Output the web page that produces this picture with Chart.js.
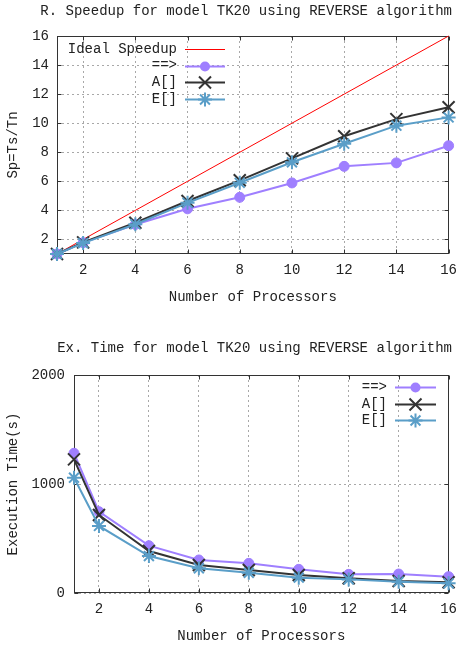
<!DOCTYPE html>
<html><head><meta charset="utf-8">
<script src="https://cdn.jsdelivr.net/npm/chart.js@4/dist/chart.umd.min.js"></script>
<style>
html,body{margin:0;padding:0;background:#fff;}
#w1{position:absolute;left:0;top:0;width:465px;height:320px;}
#w2{position:absolute;left:0;top:320px;width:465px;height:329px;}
canvas{display:block;}
</style></head><body>
<div id="w1"><canvas id="c1" width="465" height="320"></canvas></div>
<div id="w2"><canvas id="c2" width="465" height="329"></canvas></div>
<script>
// ---- data ----
const processors = [1, 2, 4, 6, 8, 10, 12, 14, 16];
const xTicks = [2, 4, 6, 8, 10, 12, 14, 16];
const speedupTicks = [2, 4, 6, 8, 10, 12, 14, 16];
const timeTicks = [0, 1000, 2000];
const idealSpeedup = [1, 2, 4, 6, 8, 10, 12, 14, 16];
const speedupArrow = [1, 1.78, 3.03, 4.11, 4.9, 5.89, 7.03, 7.27, 8.45];
const speedupA = [1, 1.8, 3.15, 4.65, 6.07, 7.58, 9.1, 10.28, 11.1];
const speedupE = [1, 1.75, 3.05, 4.52, 5.9, 7.31, 8.59, 9.83, 10.4];
const timeArrow = [1282, 746, 434, 303, 272, 217, 171, 174, 150];
const timeA = [1226, 716, 385, 257, 211, 165, 135, 110, 98];
const timeE = [1058, 615, 339, 227, 186, 141, 125, 104, 89];
const seriesNames = ['==>', 'A[]', 'E[]'];
const idealName = 'Ideal Speedup';
const title1 = 'R. Speedup for model TK20 using REVERSE algorithm';
const title2 = 'Ex. Time for model TK20 using REVERSE algorithm';

const FONT = 'Liberation Mono';
const TXT = '#222';
const C_RED = '#ff0000', C_PUR = '#9f7fff', C_BLK = '#333333', C_BLU = '#5a9ec8';

function pts(xs, ys) { return xs.map((x, i) => ({x: x, y: ys[i]})); }

function drawMarker(ctx, style, x, y, r, color, lw) {
  if (!style) return;
  ctx.save();
  ctx.strokeStyle = color; ctx.fillStyle = color; ctx.lineWidth = lw;
  ctx.beginPath();
  if (style === 'circle') {
    ctx.arc(x, y, r, 0, Math.PI * 2); ctx.fill();
  } else if (style === 'crossRot') {
    const d = r * Math.SQRT1_2;
    ctx.moveTo(x - d, y - d); ctx.lineTo(x + d, y + d);
    ctx.moveTo(x - d, y + d); ctx.lineTo(x + d, y - d); ctx.stroke();
  } else if (style === 'star') {
    const d = r * Math.SQRT1_2;
    ctx.moveTo(x - r, y); ctx.lineTo(x + r, y);
    ctx.moveTo(x, y - r); ctx.lineTo(x, y + r);
    ctx.moveTo(x - d, y - d); ctx.lineTo(x + d, y + d);
    ctx.moveTo(x - d, y + d); ctx.lineTo(x + d, y - d); ctx.stroke();
  }
  ctx.restore();
}

const frameTicks = {
  id: 'frameTicks',
  beforeDatasetsDraw(chart) {
    const {ctx, chartArea: a} = chart;
    const xs = chart.scales.x, ys = chart.scales.y;
    const L = Math.round(a.left) + 0.5, R = Math.round(a.right) - 0.5;
    const T = Math.round(a.top) + 0.5, B = Math.round(a.bottom) - 0.5;
    ctx.save();
    ctx.strokeStyle = '#333'; ctx.lineWidth = 1; ctx.setLineDash([]);
    ctx.strokeRect(L, T, R - L, B - T);
    ctx.beginPath();
    xs.ticks.forEach(t => {
      const p = Math.round(xs.getPixelForValue(t.value)) + 0.5;
      ctx.moveTo(p, B); ctx.lineTo(p, B - 4);
      ctx.moveTo(p, T); ctx.lineTo(p, T + 4);
    });
    ys.ticks.forEach(t => {
      const p = Math.round(ys.getPixelForValue(t.value)) + 0.5;
      ctx.moveTo(L, p); ctx.lineTo(L + 4, p);
      ctx.moveTo(R, p); ctx.lineTo(R - 4, p);
    });
    ctx.stroke();
    ctx.restore();
  }
};

const keyLegend = {
  id: 'keyLegend',
  afterDraw(chart, args, opts) {
    const ctx = chart.ctx;
    ctx.save();
    ctx.font = '14px "' + FONT + '"';
    ctx.fillStyle = TXT; ctx.textAlign = 'right'; ctx.textBaseline = 'middle';
    opts.items.forEach((idx, i) => {
      const ds = chart.data.datasets[idx];
      const y = opts.y0 + i * opts.dy;
      const yy = Math.round(y) + 0.5;
      ctx.fillText(ds.label, opts.textRight, y);
      ctx.save();
      ctx.strokeStyle = ds.borderColor; ctx.lineWidth = ds.borderWidth;
      ctx.beginPath(); ctx.moveTo(opts.x1, yy); ctx.lineTo(opts.x2, yy); ctx.stroke();
      ctx.restore();
      if (ds.pointStyle && ds.pointRadius > 0)
        drawMarker(ctx, ds.pointStyle, (opts.x1 + opts.x2) / 2, yy, ds.pointRadius, ds.borderColor, ds.pointBorderWidth || 2);
    });
    ctx.restore();
  }
};

function makeSeries(ys3, withIdeal, idealYs) {
  const styles = [
    {label: seriesNames[0], c: C_PUR, ps: 'circle', r: 5, bw: 1, order: 2},
    {label: seriesNames[1], c: C_BLK, ps: 'crossRot', r: 8.5, bw: 2, order: 1},
    {label: seriesNames[2], c: C_BLU, ps: 'star', r: 7, bw: 2, order: 0}
  ];
  const out = [];
  if (withIdeal) {
    out.push({label: idealName, data: pts(processors, idealYs), borderColor: C_RED, backgroundColor: C_RED,
      borderWidth: 1, pointRadius: 0, pointStyle: false, tension: 0, order: 3, clip: false});
  }
  styles.forEach((s, i) => {
    out.push({label: s.label, data: pts(processors, ys3[i]), borderColor: s.c, backgroundColor: s.c,
      borderWidth: 2, pointStyle: s.ps, pointRadius: s.r, pointHoverRadius: s.r,
      pointBorderColor: s.c, pointBackgroundColor: s.c, pointBorderWidth: s.bw,
      tension: 0, order: s.order, clip: false});
  });
  return out;
}

function baseOptions(o) {
  return {
    responsive: false, animation: false, devicePixelRatio: 1,
    layout: {padding: {left: 0, right: 13, top: 0, bottom: 0}},
    plugins: {
      legend: {display: false}, tooltip: {enabled: false},
      title: {display: true, text: o.title, align: 'end', color: TXT,
        font: {family: FONT, size: 14, weight: 'normal'}, padding: o.titlePad},
      keyLegend: o.key
    },
    scales: {
      x: {
        type: 'linear', min: 1, max: 16,
        afterBuildTicks: s => { s.ticks = xTicks.map(v => ({value: v})); },
        afterFit: s => { s.height = o.xHeight; },
        ticks: {color: TXT, font: {family: FONT, size: 14}, padding: 8, maxRotation: 0, autoSkip: false,
          callback: v => String(v)},
        grid: {color: '#a8a8a8', lineWidth: 1, drawTicks: false},
        border: {display: false, dash: [2, 3]},
        title: {display: true, text: 'Number of Processors', color: TXT,
          font: {family: FONT, size: 14}, padding: {top: 0, bottom: o.xTitleBottom}}
      },
      y: {
        type: 'linear', min: o.ymin, max: o.ymax,
        afterBuildTicks: s => { s.ticks = o.yTicks.map(v => ({value: v})); },
        afterFit: s => { s.width = o.yWidth; },
        ticks: {color: TXT, font: {family: FONT, size: 14}, padding: o.yPad, autoSkip: false,
          callback: v => String(v)},
        grid: {color: '#a8a8a8', lineWidth: 1, drawTicks: false},
        border: {display: false, dash: [2, 3]},
        title: {display: true, text: o.yTitle, color: TXT,
          font: {family: FONT, size: 14}, padding: {top: 5, bottom: 0}}
      }
    }
  };
}

new Chart(document.getElementById('c1'), {
  type: 'line',
  data: {datasets: makeSeries([speedupArrow, speedupA, speedupE], true, idealSpeedup)},
  options: baseOptions({
    title: title1, titlePad: {top: 3, bottom: 16.2}, xHeight: 66, xTitleBottom: 14.6,
    ymin: 1, ymax: 16, yTicks: speedupTicks, yWidth: 57, yPad: 8, yTitle: 'Sp=Ts/Tn',
    key: {items: [0, 1, 2, 3], textRight: 177, x1: 185, x2: 225, y0: 49, dy: 16.7}
  }),
  plugins: [frameTicks, keyLegend]
});

new Chart(document.getElementById('c2'), {
  type: 'line',
  data: {datasets: makeSeries([timeArrow, timeA, timeE], false)},
  options: baseOptions({
    title: title2, titlePad: {top: 20, bottom: 18.2}, xHeight: 56, xTitleBottom: 4.6,
    ymin: 0, ymax: 2000, yTicks: timeTicks, yWidth: 74, yPad: 9, yTitle: 'Execution Time(s)',
    key: {items: [0, 1, 2], textRight: 387, x1: 395, x2: 436, y0: 67.3, dy: 16.5}
  }),
  plugins: [frameTicks, keyLegend]
});
</script>
</body></html>
